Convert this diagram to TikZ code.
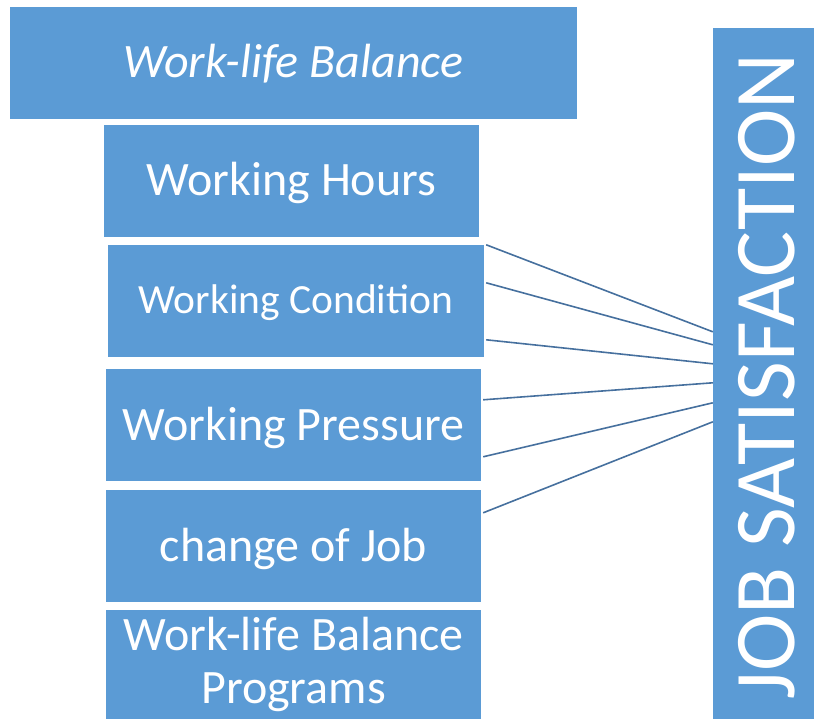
\documentclass[tikz,border=0pt]{standalone}
\usepackage{fontspec}
\setmainfont{Carlito}
\definecolor{boxblue}{HTML}{5B9BD5}
\definecolor{linkblue}{HTML}{46709E}
\tikzset{
  box/.style={fill=boxblue, draw=none, text=white, inner sep=0pt, align=center,
              font=\fontsize{48}{53}\selectfont},
  oneline/.style={text height=36pt, text depth=6pt},
  link/.style={draw=linkblue, line width=1.6pt}
}
\begin{document}
\begin{tikzpicture}[x=1pt,y=-1pt]
\useasboundingbox (0,0) rectangle (814,719);
% factor boxes
\node[box, oneline, minimum width=567pt, minimum height=112pt, font=\fontsize{48}{53}\selectfont\itshape]
  (wlb) at (293.5,63) {Work-life Balance};
\node[box, oneline, minimum width=375pt, minimum height=112pt] (wh) at (291.5,181) {Working Hours};
\node[box, minimum width=376pt, minimum height=112pt, font=\fontsize{41.5}{48}\selectfont,
      text height=31pt, text depth=5pt]
  (wc) at (296,301) {Working Condition};
\node[box, oneline, minimum width=375pt, minimum height=112pt] (wp) at (293.5,425) {Working Pressure};
\node[box, oneline, minimum width=375pt, minimum height=112pt] (cj) at (293.5,546) {change of Job};
\node[box, minimum width=375pt, minimum height=109pt] (wbp) at (293.5,664.5)
  {Work-life Balance\\Programs};
% outcome box
\node[box, minimum width=101pt, minimum height=691pt] (js) at (763.5,373.5) {};
\node[text=white, font=\fontsize{86.5}{90}\selectfont, rotate=90, inner sep=0pt]
  (jst) at (767,376.5) {JOB SATISFACTION};
% connectors
\draw[link] ([xshift=2pt]wc.north east) -- ([yshift=-304pt]js.north west);
\draw[link] ([xshift=2pt,yshift=-38pt]wc.north east) -- ([yshift=-317pt]js.north west);
\draw[link] ([xshift=2pt,yshift=-95pt]wc.north east) -- ([yshift=-336pt]js.north west);
\draw[link] ([xshift=2pt,yshift=-31pt]wp.north east) -- ([yshift=-355pt]js.north west);
\draw[link] ([xshift=2pt,yshift=-88pt]wp.north east) -- ([yshift=-375pt]js.north west);
\draw[link] ([xshift=2pt,yshift=-23pt]cj.north east) -- ([yshift=-394pt]js.north west);
\end{tikzpicture}
\end{document}
